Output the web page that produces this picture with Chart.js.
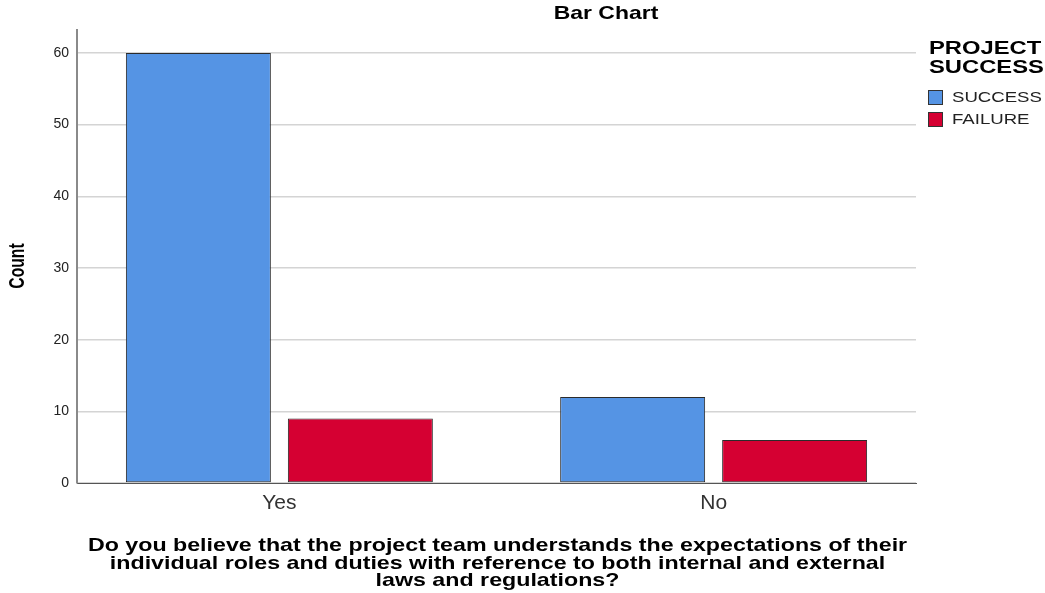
<!DOCTYPE html>
<html>
<head>
<meta charset="utf-8">
<script src="https://cdn.jsdelivr.net/npm/chart.js@4/dist/chart.umd.min.js"></script>
<style>
  html, body { margin: 0; padding: 0; background: #fff; }
  #wrap { width: 1045px; height: 593px; }
</style>
</head>
<body>
<div id="wrap"><canvas id="barChart" width="1045" height="593"></canvas></div>
<script>
// categories on the x axis and the two legend groups
const categories = ["Yes", "No"];
const seriesNames = ["SUCCESS", "FAILURE"];
const successCounts = [60, 12];
const failureCounts = [9, 6];
const yTicks = [0, 10, 20, 30, 40, 50, 60];

const chartTitle = "Bar Chart";
const yTitle = "Count";
const legendTitle = ["PROJECT", "SUCCESS"];
const xTitle = [
    "Do you believe that the project team understands the expectations of their",
    "individual roles and duties with reference to both internal and external",
    "laws and regulations?"
];

const FONT = "'Liberation Sans', Arial, sans-serif";
// the original picture was pasted a bit wider than it was drawn
const STRETCH = 1.24;

// draw text stretched along the x axis
function wideText(ctx, text, x, y, align, k) {
    ctx.save();
    ctx.translate(x, y);
    ctx.scale(k || STRETCH, 1);
    ctx.textAlign = align;
    ctx.fillText(text, 0, 0);
    ctx.restore();
}

const textPlugin = {
    id: "spssText",
    afterDraw(chart) {
        const ctx = chart.ctx;
        ctx.save();
        ctx.fillStyle = "#000";
        ctx.textBaseline = "middle";

        ctx.font = "bold 18.5px " + FONT;
        wideText(ctx, chartTitle, 606, 14, "center");

        // x axis title, centred under the plot area
        const area = chart.chartArea;
        const cx = (area.left + area.right) / 2 + 1;
        ctx.font = "bold 18.5px " + FONT;
        xTitle.forEach((line, i) => {
            wideText(ctx, line, cx, 546 + i * 17.5, "center", 1.255);
        });

        // y axis label
        ctx.save();
        ctx.translate(18, 266);
        ctx.rotate(-Math.PI / 2);
        ctx.scale(0.95, 1.3);
        ctx.font = "bold 16.5px " + FONT;
        ctx.textAlign = "center";
        ctx.fillText(yTitle, 0, 0);
        ctx.restore();

        // legend
        ctx.font = "bold 18px " + FONT;
        legendTitle.forEach((line, i) => {
            wideText(ctx, line, 929, 49 + i * 19, "left", 1.32);
        });

        ctx.font = "15.5px " + FONT;
        chart.data.datasets.forEach((ds, i) => {
            const y = 90 + i * 22;
            ctx.fillStyle = ds.backgroundColor;
            ctx.fillRect(928, y, 15, 15);
            ctx.strokeStyle = "#333";
            ctx.lineWidth = 1;
            ctx.strokeRect(928.5, y + 0.5, 14, 14);
            ctx.fillStyle = "#222";
            wideText(ctx, ds.label, 952, y + 8, "left", 1.2);
        });
        ctx.restore();
    }
};

const ctx = document.getElementById("barChart").getContext("2d");
new Chart(ctx, {
    type: "bar",
    data: {
        datasets: [{
            label: seriesNames[0],
            data: categories.map((c, i) => ({ x: i, y: successCounts[i] })),
            backgroundColor: "#5594e4",
            borderColor: "#2b2b2b",
            borderWidth: 1,
            borderSkipped: false
        }, {
            label: seriesNames[1],
            data: categories.map((c, i) => ({ x: i, y: failureCounts[i] })),
            backgroundColor: "#d50032",
            borderColor: "#2b2b2b",
            borderWidth: 1,
            borderSkipped: false
        }]
    },
    options: {
        responsive: false,
        animation: false,
        categoryPercentage: 0.746,
        barPercentage: 0.895,
        layout: { padding: { top: 30, right: 129, left: 0, bottom: 0 } },
        plugins: {
            legend: { display: false },
            title: { display: false },
            tooltip: { enabled: false }
        },
        scales: {
            x: {
                type: "linear",
                offset: false,
                min: -0.466,
                max: 1.466,
                afterBuildTicks: (scale) => {
                    scale.ticks = categories.map((c, i) => ({ value: i }));
                },
                afterFit: (scale) => { scale.height = 110; },
                grid: { display: false, drawTicks: false, offset: false },
                border: { display: true, color: "#555", width: 1 },
                ticks: {
                    padding: 8,
                    color: "#333",
                    font: { family: FONT, size: 21 },
                    callback: (v) => categories[v]
                },
                title: { display: false }
            },
            y: {
                min: 0,
                max: 63.2,
                afterBuildTicks: (scale) => {
                    scale.ticks = yTicks.map(v => ({ value: v }));
                },
                afterFit: (scale) => { scale.width = 77; },
                grid: { color: "#d4d4d4", lineWidth: 1.5, drawTicks: false },
                border: { display: true, color: "#8a8a8a", width: 2 },
                ticks: {
                    padding: 8,
                    color: "#222",
                    font: { family: FONT, size: 14 }
                }
            }
        }
    },
    plugins: [textPlugin]
});
</script>
</body>
</html>
